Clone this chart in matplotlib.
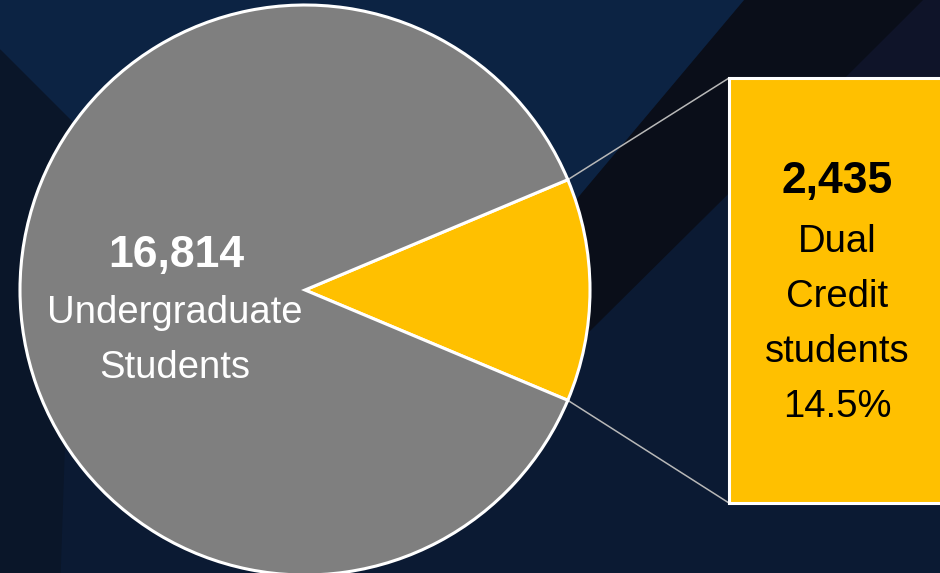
import numpy as np
import matplotlib.pyplot as plt
from matplotlib.patches import Polygon, Rectangle

# data
labels = ['Dual Credit students', 'Undergraduate Students']
counts = [2435, 16814]
share_text = '14.5%'
colors = ['#FFC000', '#7F7F7F']

W, H = 940, 573
fig = plt.figure(figsize=(W / 100, H / 100), dpi=100)
ax = fig.add_axes([0, 0, 1, 1])

# background
ax.add_patch(Rectangle((0, 0), W, H, color='#0b1a33', zorder=0))
ax.add_patch(Polygon([(0, 0), (745, 0), (560, 220), (0, 220)], color='#0c2343', zorder=0))
ax.add_patch(Polygon([(745, 0), (923, 0), (587, 333), (420, 420), (560, 220)], color='#0a0e19', zorder=0))
ax.add_patch(Polygon([(923, 0), (940, 0), (940, 80), (843, 80)], color='#0f1429', zorder=0))
ax.add_patch(Polygon([(0, 50), (75, 125), (60, 573), (0, 573)], color='#0a1629', zorder=0))

cx, cy, r = 305, 290, 285
frac = counts[0] / sum(counts)
wedges, _ = ax.pie(counts, colors=colors, startangle=-frac * 180, center=(cx, cy), radius=r,
                   wedgeprops=dict(edgecolor='white', linewidth=2.2), frame=True)
for w in wedges:
    w.set_zorder(2)
ax.set_xlim(0, W)
ax.set_ylim(H, 0)
ax.set_aspect('equal')
ax.axis('off')

# callout box
bx, by, bw, bh = 729, 78, 240, 425
ax.add_patch(Rectangle((bx, by), bw, bh, fc=colors[0], ec='white', lw=2.2, zorder=3))
a = np.radians(frac * 180)
ax.plot([cx + r * np.cos(a), bx], [cy - r * np.sin(a), by], color='#b8b8b8', lw=1.1, zorder=1)
ax.plot([cx + r * np.cos(a), bx], [cy + r * np.sin(a), by + bh], color='#b8b8b8', lw=1.1, zorder=1)

fam = ['Liberation Sans', 'DejaVu Sans']
ax.text(176, 267, f'{counts[1]:,}', color='white', fontsize=32, fontweight='bold',
        ha='center', va='baseline', family=fam, zorder=4)
ax.text(175, 323, 'Undergraduate', color='white', fontsize=27.5,
        ha='center', va='baseline', family=fam, zorder=4)
ax.text(175, 378, 'Students', color='white', fontsize=27.5,
        ha='center', va='baseline', family=fam, zorder=4)

ax.text(837, 193, f'{counts[0]:,}', color='black', fontsize=32, fontweight='bold',
        ha='center', va='baseline', family=fam, zorder=4)
for i, line in enumerate(['Dual', 'Credit', 'students', share_text]):
    ax.text(837, 252 + 55 * i, line, color='black', fontsize=27.5,
            ha='center', va='baseline', family=fam, zorder=4)

fig.savefig('out.png', dpi=100)
